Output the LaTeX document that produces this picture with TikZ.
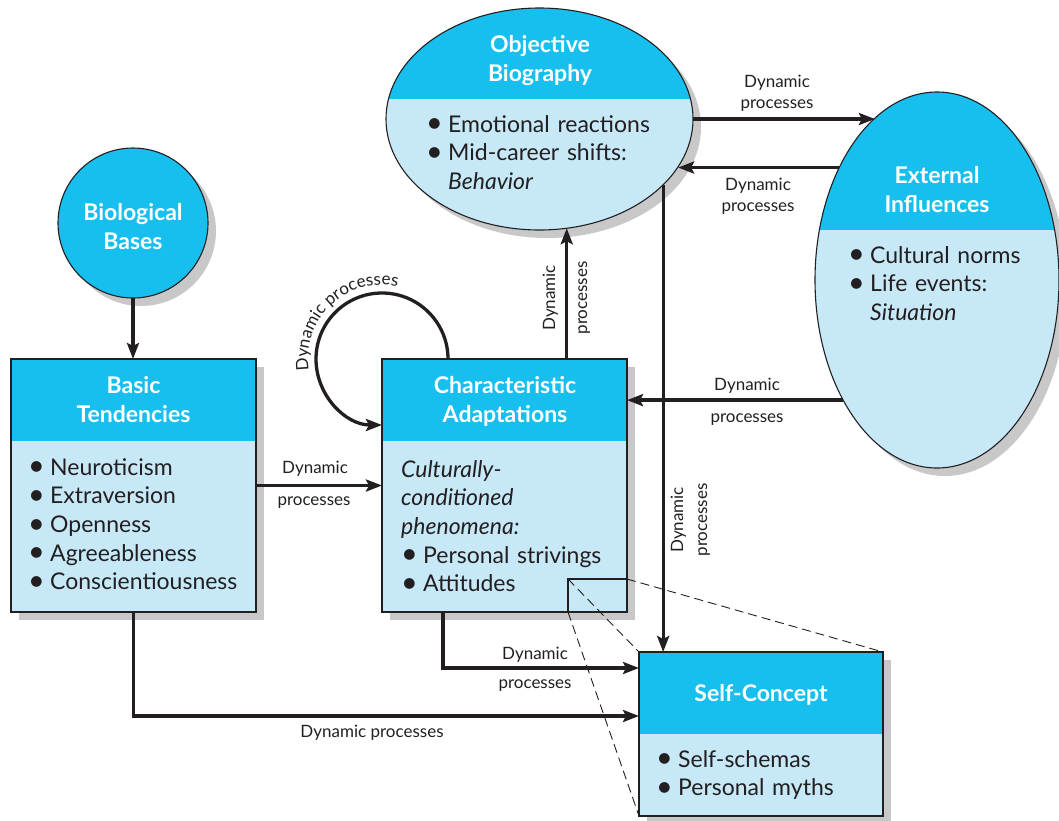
\documentclass[tikz,border=0pt]{standalone}
\usepackage{fontspec}
\setmainfont{Lato}
\usetikzlibrary{arrows.meta,shapes.geometric,shadows,calc,decorations.text}

\definecolor{headblue}{HTML}{17BFEF}
\definecolor{bodyblue}{HTML}{C6E8F7}
\definecolor{shade}{HTML}{C8C8C8}
\definecolor{ink}{HTML}{231F20}

\newcommand\titlefont{\fontsize{23}{29.5}\selectfont\bfseries}
\newcommand\itemfont{\fontsize{23}{28.7}\selectfont}
\newcommand\labfont{\fontsize{17}{20.5}\selectfont}
\newcommand\itm{\makebox[22pt][l]{\raisebox{-0.6pt}{\scalebox{1.25}{\textbullet}}}}

\tikzset{
  shadowed/.style={drop shadow={shadow xshift=8pt, shadow yshift=-8pt, fill=shade, opacity=1}},
  panel/.style={rectangle, fill=bodyblue, shadowed, inner sep=0pt, outer sep=0pt,
                minimum width=245pt, minimum height=253pt},
  bubble/.style={ellipse, fill=bodyblue, shadowed, inner sep=0pt, outer sep=0pt},
  rim/.style={draw=ink, line width=1.1pt},
  title/.style={text=white, font=\titlefont, align=center, anchor=base,
                text width=240pt, inner sep=0pt},
  items/.style={text=ink, font=\itemfont, anchor=base west, text width=240pt,
                align=left, inner sep=0pt},
  flow/.style={draw=ink, line width=3.3pt, -{Stealth[length=16pt, width=12pt, inset=3pt]}},
  lab/.style={text=ink, font=\labfont, inner sep=0pt, anchor=base},
  lensline/.style={draw=ink, line width=0.9pt, dash pattern=on 9pt off 5pt},
}

\begin{document}
\begin{tikzpicture}[x=1pt, y=-1pt]
\useasboundingbox (0,0) rectangle (1059,820);

% ---------- shapes ----------
\node[circle, fill=headblue, shadowed, rim, inner sep=0pt, outer sep=0pt,
      minimum size=150pt] (bio) at (133,223) {};

\node[panel] (basic)  at (133.5,485.5) {};
\node[panel] (charad) at (504.5,485.5) {};
\node[panel, minimum width=244pt, minimum height=164pt] (self) at (761,734) {};

\node[bubble, minimum width=307pt, minimum height=222pt] (obj) at (539.5,119) {};
\node[bubble, minimum width=244pt, minimum height=376pt] (ext) at (937,280) {};

% coloured header bands
\fill[headblue] (basic.north west)  rectangle ($(basic.north east)+(0,82)$);
\fill[headblue] (charad.north west) rectangle ($(charad.north east)+(0,82)$);
\fill[headblue] (self.north west)   rectangle ($(self.north east)+(0,82)$);
\begin{scope}
  \clip (obj.center) ellipse [x radius=153.5, y radius=111];
  \fill[headblue] ($(obj.center)+(-160,-120)$) rectangle ($(obj.center)+(160,-20)$);
\end{scope}
\begin{scope}
  \clip (ext.center) ellipse [x radius=122, y radius=188];
  \fill[headblue] ($(ext.center)+(-130,-200)$) rectangle ($(ext.center)+(130,-50)$);
\end{scope}

% outlines
\draw[rim] (basic.north west)  rectangle (basic.south east);
\draw[rim] (charad.north west) rectangle (charad.south east);
\draw[rim] (self.north west)   rectangle (self.south east);
\draw[rim] (obj.center) ellipse [x radius=153.5, y radius=111];
\draw[rim] (ext.center) ellipse [x radius=122, y radius=188];

% ---------- titles ----------
\node[title] (biot)    at (133,220)   {Biological\\Bases};
\node[title] (basict)  at (133.5,393) {Basic\\Tendencies};
\node[title] (charadt) at (505,393)   {Characteristic\\Adaptations};
\node[title] (objt)    at (540,52)    {Objective\\Biography};
\node[title] (extt)    at (937,183)   {External\\Influences};
\node[title] (selft)   at (761,701)   {Self-Concept};

% ---------- contents ----------
\node[items] (basici) at (28,475)
  {\itm Neuroticism\\\itm Extraversion\\\itm Openness\\\itm Agreeableness\\\itm Conscientiousness};
\node[items] (charadi) at (401,477)
  {\textit{Culturally-}\\\textit{conditioned}\\\textit{phenomena:}\\\itm Personal strivings\\\itm Attitudes};
\node[items] (obji) at (426,132)
  {\itm Emotional reactions\\\itm Mid-career shifts:\\\hspace*{22pt}\textit{Behavior}};
\node[items] (exti) at (848,263)
  {\itm Cultural norms\\\itm Life events:\\\hspace*{22pt}\textit{Situation}};
\node[items] (selfi) at (656,767)
  {\itm Self-schemas\\\itm Personal myths};

% ---------- connectors ----------
\draw[flow] (bio.south) -- (bio.south |- basic.north);
\draw[flow] (basic.east) -- (charad.west);
\draw[flow] (basic.south) |- ($(self.north west)+(0,64)$);
\draw[flow] ($(charad.south west)+(61,0)$) |- ($(self.north west)+(0,16)$);
\draw[flow] (obj.-76.9 |- charad.north) -- (obj.-76.9);
\draw[flow] (obj.-28.1) -- (obj.-28.1 |- self.north);
\draw[flow] (obj.east) -- (obj.east -| ext.111.4);
\draw[flow] (ext.131.2) -- (ext.131.2 -| obj.-19.6);
\draw[flow] (ext.232) -- (ext.232 -| charad.east);
\draw[flow] ($(charad.north west)+(66,0)$) arc[start angle=0, end angle=-270, radius=66];

% ---------- connector labels ----------
\node[lab] (l1a) at (315,473) {Dynamic};
\node[lab] (l1b) at (314,505) {processes};
\node[lab] (l2)  at (372,737) {Dynamic processes};
\node[lab] (l3a) at (535,659) {Dynamic};
\node[lab] (l3b) at (535,688) {processes};
\node[lab, rotate=90] (l4a) at (555,298) {Dynamic};
\node[lab, rotate=90] (l4b) at (587,298) {processes};
\node[lab, rotate=90] (l5a) at (683,520) {Dynamic};
\node[lab, rotate=90] (l5b) at (707,520) {processes};
\node[lab] (l6a) at (777,87)  {Dynamic};
\node[lab] (l6b) at (777,108) {processes};
\node[lab] (l7a) at (758,190) {Dynamic};
\node[lab] (l7b) at (758,211) {processes};
\node[lab] (l8a) at (747,390) {Dynamic};
\node[lab] (l8b) at (747,422) {processes};
\path[decorate, decoration={text along path, text align=center,
      text={|\labfont\color{ink}|Dynamic processes}}]
  ($(charad.north west)+(166:74)$) arc[start angle=166, end angle=287, radius=74];

% ---------- magnified detail ----------
\coordinate (lens) at ($(charad.south east)+(-59,-33)$);
\coordinate (lensne) at (charad.south east |- lens);
\coordinate (lenssw) at (lens |- charad.south east);
\draw[rim] (lens) rectangle (charad.south east);
\draw[lensline] (lens) -- (self.north west);
\draw[lensline] (lensne) -- (self.north east);
\draw[lensline] (lenssw) -- (self.south west);
\end{tikzpicture}
\end{document}
